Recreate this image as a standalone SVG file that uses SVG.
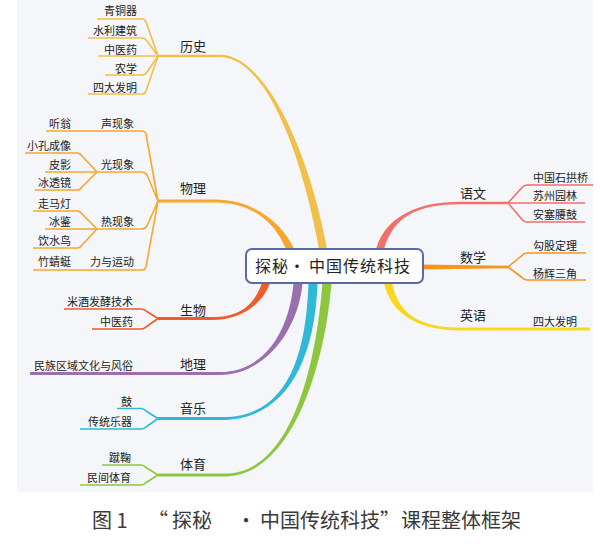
<svg xmlns="http://www.w3.org/2000/svg" width="600" height="544" viewBox="0 0 600 544">
<style>
text{font-family:"Noto Sans CJK SC","Noto Sans",sans-serif;fill:#222}
.leaf{font-size:11px}
.lab{font-size:13px}
.end{text-anchor:end}
.sub{fill:none;stroke-width:1.6;stroke-linejoin:round}
.y1{stroke:#f1c04a}.y1f{fill:#f1c04a}
.o1{stroke:#f8a62c}.o1f{fill:#f8a62c}
.r1{stroke:#f15a29}.r1f{fill:#f15a29}
.p1{stroke:#9b6fae}.p1f{fill:#9b6fae}
.c1{stroke:#2fb8d8}.c1f{fill:#2fb8d8}
.g1{stroke:#8dc63f}.g1f{fill:#8dc63f}
.s1{stroke:#f0706a}.s1f{fill:#f0706a}
.m1{stroke:#f7931e}.m1f{fill:#f7931e}
.e1{stroke:#f9d71c}.e1f{fill:#f9d71c}
</style>
<rect x="17" y="0" width="576" height="492" fill="#f4f6f9"/>
<g id="connectors">
<path class="y1f" d="M327,249 C309,150 265,54.7 220,54.7 L158,54.7 L158,57.3 L220,57.3 C265,57.3 301,150 319,249 Z"/>
<path class="o1f" d="M294,249 C284,225 255,199.6 215,199.6 L158,199.6 L158,202.4 L215,202.4 C255,202.4 276,225 286,249 Z"/>
<path class="r1f" d="M270,283 C262,305 240,319.9 212,319.9 L158,319.9 L158,317.1 L212,317.1 C240,317.1 254,305 262,283 Z"/>
<path class="p1f" d="M302.5,283 C298.5,330 265,374.9 220,374.9 L30,374.9 L30,372.1 L220,372.1 C265,372.1 289.5,330 293.5,283 Z"/>
<path class="c1f" d="M317.5,283 C314.5,370 280,419.9 222,419.9 L158,419.9 L158,417.1 L222,417.1 C280,417.1 305.5,370 308.5,283 Z"/>
<path class="g1f" d="M331.5,283 C324.5,370 290,476.4 225,476.4 L158,476.4 L158,473.6 L225,473.6 C290,473.6 315.5,370 322.5,283 Z"/>
<path class="s1f" d="M376,249 C386,215 420,201.7 460,201.7 L508,201.7 L508,204.3 L460,204.3 C420,204.3 394,215 384,249 Z"/>
<path class="m1f" d="M420,264.5 L508,265.7 L508,268.3 L420,269.5 Z"/>
<path class="e1f" d="M384,283 C391,315 420,330.5 460,330.5 L590,330.5 L590,327.5 L460,327.5 C420,327.5 399,315 392,283 Z"/>
<g class="sub y1">
<path d="M158,56 L146,22 Q145,19 142,19 H97"/>
<path d="M158,56 L147,41 Q145,38 142,38 H88"/>
<path d="M158,56 H98"/>
<path d="M158,56 L147,72 Q145,75 142,75 H105"/>
<path d="M158,56 L146,91 Q145,94 142,94 H88"/>
</g>
<g class="sub o1">
<path d="M158,201 L146,134 Q145,131 142,131 H46"/>
<path d="M158,201 L147,175 Q145,172 142,172 H97"/>
<path d="M158,201 L147,226 Q145,229 142,229 H97"/>
<path d="M158,201 L146,267 Q145,270 142,270 H33"/>
<path d="M97,172 L82,156 Q80,153 77,153 H25"/>
<path d="M97,172 H45"/>
<path d="M97,172 L82,187 Q80,190 77,190 H35"/>
<path d="M97,229 L82,214 Q80,211 77,211 H33"/>
<path d="M97,229 H45"/>
<path d="M97,229 L82,245 Q80,248 77,248 H33"/>
</g>
<g class="sub r1">
<path d="M158,318.5 L146,311 Q144,309 141,309 H64"/>
<path d="M158,318.5 L146,327 Q144,329 141,329 H92"/>
</g>
<g class="sub c1">
<path d="M158,418.5 L146,411 Q144,408.5 141,408.5 H117"/>
<path d="M158,418.5 L146,427 Q144,429 141,429 H80"/>
</g>
<g class="sub g1">
<path d="M158,475 L146,467.5 Q144,465 141,465 H102"/>
<path d="M158,475 L146,482.5 Q144,485 141,485 H80"/>
</g>
<g class="sub s1">
<path d="M508,203 L522,187.5 Q524,185 527,185 H593"/>
<path d="M508,203 H585"/>
<path d="M508,203 L522,219.5 Q524,222 527,222 H585"/>
</g>
<g class="sub m1">
<path d="M508,267 L522,255.5 Q524,253 527,253 H586"/>
<path d="M508,267 L522,277.5 Q524,280 527,280 H586"/>
</g>
</g>
<g id="center">
<rect x="246" y="249" width="177" height="34" rx="6" fill="#fff" stroke="#5b6aa5" stroke-width="2"/>
<text y="271.5" font-size="16" letter-spacing="1"><tspan x="255">探秘</tspan><tspan x="289" letter-spacing="0">·</tspan><tspan x="309">中国传统科技</tspan></text>
</g>
<g id="lishi">
<text class="lab" x="180" y="51">历史</text>
<text class="leaf end" x="137" y="15">青铜器</text>
<text class="leaf end" x="137" y="35">水利建筑</text>
<text class="leaf end" x="137" y="54">中医药</text>
<text class="leaf end" x="137" y="73">农学</text>
<text class="leaf end" x="137" y="92">四大发明</text>
</g>
<g id="wuli">
<text class="lab" x="180" y="193">物理</text>
<text class="leaf end" x="134" y="128">声现象</text>
<text class="leaf end" x="71" y="128">听翁</text>
<text class="leaf end" x="134" y="169">光现象</text>
<text class="leaf end" x="71" y="150">小孔成像</text>
<text class="leaf end" x="71" y="169">皮影</text>
<text class="leaf end" x="71" y="187">冰透镜</text>
<text class="leaf end" x="134" y="226">热现象</text>
<text class="leaf end" x="71" y="208">走马灯</text>
<text class="leaf end" x="71" y="226">冰鉴</text>
<text class="leaf end" x="71" y="245">饮水鸟</text>
<text class="leaf end" x="134" y="266">力与运动</text>
<text class="leaf end" x="71" y="266">竹蜻蜓</text>
</g>
<g id="shengwu">
<text class="lab" x="180" y="315">生物</text>
<text class="leaf end" x="133" y="306">米酒发酵技术</text>
<text class="leaf end" x="133" y="326">中医药</text>
</g>
<g id="dili">
<text class="lab" x="180" y="369">地理</text>
<text class="leaf end" x="133" y="370">民族区域文化与风俗</text>
</g>
<g id="yinyue">
<text class="lab" x="180" y="413">音乐</text>
<text class="leaf end" x="132" y="406">鼓</text>
<text class="leaf end" x="132" y="426">传统乐器</text>
</g>
<g id="tiyu">
<text class="lab" x="180" y="469">体育</text>
<text class="leaf end" x="131" y="462">蹴鞠</text>
<text class="leaf end" x="131" y="482">民间体育</text>
</g>
<g id="yuwen">
<text class="lab" x="460" y="198">语文</text>
<text class="leaf" x="533" y="182">中国石拱桥</text>
<text class="leaf" x="533" y="200">苏州园林</text>
<text class="leaf" x="533" y="219">安塞腰鼓</text>
</g>
<g id="shuxue">
<text class="lab" x="460" y="262">数学</text>
<text class="leaf" x="533" y="250">勾股定理</text>
<text class="leaf" x="533" y="278">杨辉三角</text>
</g>
<g id="yingyu">
<text class="lab" x="460" y="320">英语</text>
<text class="leaf" x="533" y="326">四大发明</text>
</g>
<text y="528" font-size="20" style="fill:#3a3a3a"><tspan x="92">图 1</tspan><tspan x="148">“</tspan><tspan x="172">探秘</tspan><tspan x="236">·</tspan><tspan x="260">中国传统科技</tspan><tspan x="380">”</tspan><tspan x="401">课程整体框架</tspan></text>
</svg>
